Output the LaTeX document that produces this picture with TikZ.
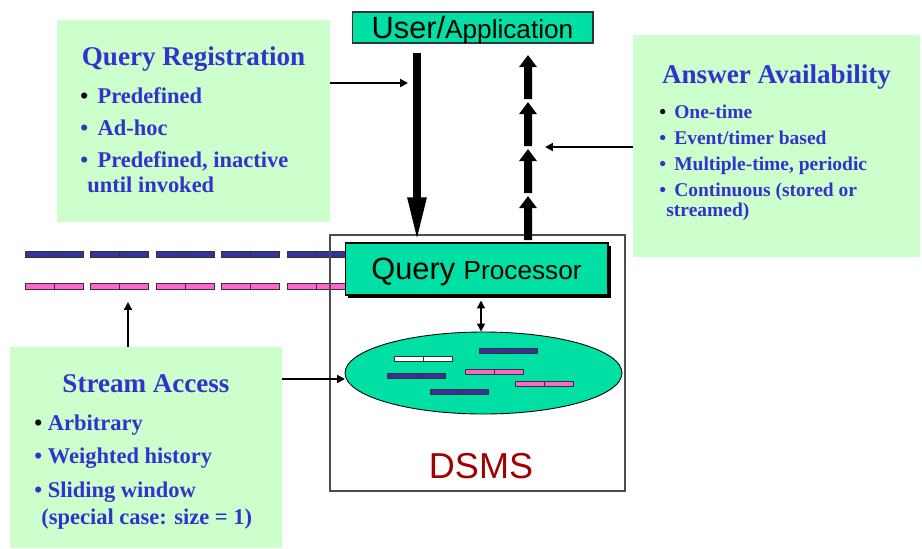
\documentclass[tikz,border=0pt]{standalone}
\usepackage{fontspec}
\setmainfont{Liberation Serif}
\setsansfont{Liberation Sans}
\usepackage{xcolor}
\usepackage{tikz}
\usetikzlibrary{positioning, calc, arrows.meta, shadows, shapes.geometric}
\definecolor{panelgreen}{RGB}{204,255,204}
\definecolor{boxteal}{RGB}{0,224,164}
\definecolor{textblue}{RGB}{51,51,204}
\definecolor{barblue}{RGB}{51,51,153}
\definecolor{barpink}{RGB}{255,102,204}
\definecolor{dsmsred}{RGB}{160,0,0}
\tikzset{
    panel/.style={
        fill=panelgreen, draw=none, inner sep=0pt
    },
    paneltitle/.style={
        font=\fontsize{15.4}{18}\selectfont\bfseries, text=textblue, anchor=base, inner sep=0pt
    },
    itemlist/.style={
        text=textblue, align=left, anchor=north west, inner sep=0pt
    },
    barcell/.style={
        draw=black!80, line width=0.4pt
    },
    thinarr/.style={
        -{Triangle[length=4.5pt, width=4.5pt]}, line width=1.1pt, black
    }
}
\newcommand{\drawbar}[3][6]{
    \draw[barcell, fill=#3] (#2) rectangle ++(29,#1);
    \draw[barcell, fill=#3] ($(#2)+(29,0)$) rectangle ++(29,#1);
}
\newcommand{\firstdot}{{\color{black}\textbullet}}

\begin{document}
\begin{tikzpicture}[
        x=0.02cm, y=-0.02cm,
        % boxes of the system
        tealbox/.style={
            fill=boxteal, draw=black!80, line width=0.6pt, inner sep=0pt, font=\sffamily, text depth=0pt
        },
        dsmsbox/.style={
            draw=black!70, line width=0.8pt, inner sep=0pt
        },
        % thick arrows between user and processor
        bigdown/.style={
            -{Triangle[length=0.9cm, width=0.34cm]}, line width=0.16cm
        },
        bigup/.style={
            -{Triangle[length=0.24cm, width=0.34cm]}, line width=0.16cm
        }
    ]
    \useasboundingbox (0,0) rectangle (922,548);

    % --- PANELS ---
    \node[panel, minimum width=5.46cm, minimum height=4.04cm] (qreg) at (193.5,121) {};
    \node[panel, minimum width=5.74cm, minimum height=4.44cm] (ansav) at (776.5,146) {};
    \node[panel, minimum width=5.44cm, minimum height=4.02cm] (strac) at (146,447.5) {};

    \node[paneltitle] (qregtitle) at (qreg.center |- 0,65) {Query Registration};
    \node[paneltitle] (ansavtitle) at (ansav.center |- 0,83) {Answer Availability};
    \node[paneltitle] (stractitle) at (strac.center |- 0,392) {Stream Access};

    \node[itemlist, font=\fontsize{12.8}{14.2}\selectfont\bfseries] (qreglist) at (80,87)
        {\firstdot{} \,Predefined\\[4pt]
         \textbullet{} \,Ad-hoc\\[4pt]
         \textbullet{} \,Predefined, inactive\\
         \hspace*{4pt}until invoked};
    \node[itemlist, font=\fontsize{11.1}{11.4}\selectfont\bfseries] (ansavlist) at (659,105)
        {\firstdot{}\, One-time\\[3.4pt]
         \textbullet{}\, Event/timer based\\[3.4pt]
         \textbullet{}\, Multiple-time, periodic\\[3.4pt]
         \textbullet{}\, Continuous (stored or\\
         \hspace*{4pt}streamed)};
    \node[itemlist, font=\fontsize{12.8}{15.4}\selectfont\bfseries] (straclist) at (34,415)
        {\firstdot{} Arbitrary\\[3.4pt]
         \textbullet{} Weighted history\\[3.4pt]
         \textbullet{} Sliding window\\
         \hspace*{4pt}(special case: size = 1)};

    % --- STREAMS ---
    \foreach \x in {25,90.5,156,221.5,287} {
        \drawbar{\x,251}{barblue}
        \drawbar{\x,283}{barpink}
    }

    % --- DSMS ---
    \node[dsmsbox, minimum width=5.9cm, minimum height=5.12cm] (dsms) at (477.5,363) {};
    \node[tealbox, minimum width=4.82cm, minimum height=0.62cm] (userapp) at (472.5,27.5)
        {{\fontsize{17.5}{20}\selectfont User/}{\fontsize{14.9}{17}\selectfont Application}};
    \node[tealbox, draw=black, minimum width=5.26cm, minimum height=1.04cm,
          drop shadow={shadow xshift=0.06cm, shadow yshift=-0.06cm, fill=black, opacity=1}] (qproc) at (476.5,269)
        {{\fontsize{17.5}{20}\selectfont Query }{\fontsize{14.9}{17}\selectfont Processor}};
    \node[ellipse, fill=boxteal, draw=black, line width=0.5pt, minimum width=5.54cm, minimum height=1.64cm] (store) at (483.5,373) {};
    \node[font=\sffamily\fontsize{20.5}{24}\selectfont, text=dsmsred, anchor=base, inner sep=0pt] (dsmslabel) at (481,478) {DSMS};

    % stored streams
    \drawbar[5]{394,356}{white}
    \drawbar[5]{479,348}{barblue}
    \drawbar[5]{387,373}{barblue}
    \drawbar[5]{465,369}{barpink}
    \drawbar[5]{515,381}{barpink}
    \drawbar[5]{430,389}{barblue}

    % --- ARROWS ---
    \coordinate (downx) at (417,0);
    \draw[bigdown] ([yshift=-0.18cm]userapp.south -| downx) -- (qproc.north -| downx);

    \coordinate (upbot) at (528,240);
    \coordinate (uptop) at (528,52);
    \foreach \i in {0,1,2,3} {
        \draw[bigup] ($(upbot)!{\i/4}!(uptop)$) -- ($(upbot)!{(\i+1)/4-0.016}!(uptop)$);
    }

    \coordinate (qregtip) at (408,83);
    \draw[thinarr] (qreg.east |- qregtip) -- (qregtip);
    \coordinate (ansavtip) at (545,147);
    \draw[thinarr] (ansav.west |- ansavtip) -- (ansavtip);
    \coordinate (storetip) at (345,379);
    \draw[thinarr] (strac.east |- storetip) -- (storetip);
    \coordinate (streamtip) at (128,302);
    \draw[thinarr] (strac.north -| streamtip) -- (streamtip);
    \draw[thinarr, {Triangle[length=4.5pt, width=4.5pt]}-{Triangle[length=4.5pt, width=4.5pt]}, line width=0.8pt]
        ([yshift=-0.1cm]qproc.south -| 481,0) -- (store.north -| 481,0);
\end{tikzpicture}
\end{document}
